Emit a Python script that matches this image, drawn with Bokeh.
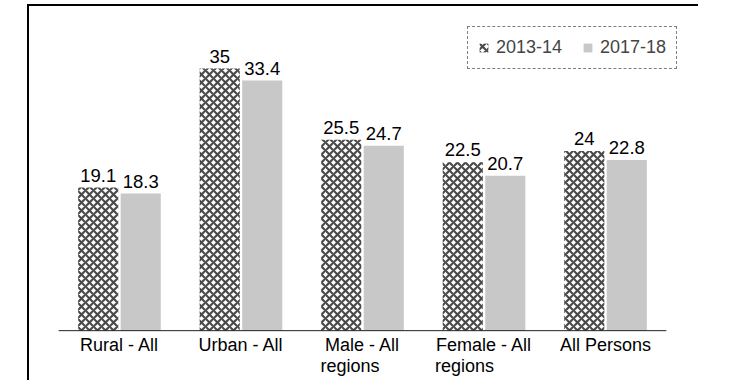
from bokeh.plotting import figure
from bokeh.models import ColumnDataSource, Range1d, FactorRange, Legend, LegendItem
from bokeh.transform import dodge
from bokeh.core.properties import value
from bokeh.embed import file_html
from bokeh.resources import INLINE

# ---- data ----
categories = ["Rural - All", "Urban - All", "Male - All regions", "Female - All regions", "All Persons"]
label_line1 = ["Rural - All", "Urban - All", "Male - All", "Female - All", "All Persons"]
label_line2 = ["", "", "regions", "regions", ""]
series_2013 = [19.1, 35, 25.5, 22.5, 24]
series_2017 = [18.3, 33.4, 24.7, 20.7, 22.8]
text_2013 = ["19.1", "35", "25.5", "22.5", "24"]
text_2017 = ["18.3", "33.4", "24.7", "20.7", "22.8"]
series_names = ["2013-14", "2017-18"]

# style: horizontal shift for left-aligned second label lines
line2_shift = [0, 0, -42, -49, 0]

src = ColumnDataSource(dict(
    x=categories, v13=series_2013, v17=series_2017,
    t13=text_2013, t17=text_2017,
    l1=label_line1, l2=label_line2, sh=line2_shift,
))
base_src = ColumnDataSource(dict(x0=[categories[0]], x1=[categories[-1]]))

FONT = value("Liberation Sans")

p = figure(
    x_range=FactorRange(*categories, range_padding=0.125, range_padding_units="absolute",
                        factor_padding=0),
    y_range=Range1d(-6.92, 41.28),
    width=671, height=376,
    output_backend="svg", toolbar_location=None,
    x_axis_location=None, y_axis_location=None,
    min_border_left=14, min_border_right=19, min_border_top=15, min_border_bottom=0,
)
p.outline_line_color = None
p.grid.visible = False
p.styles = {
    "margin-left": "27px",
    "margin-top": "4px",
    "border-left": "2px solid black",
    "border-top": "2px solid black",
}

r1 = p.vbar(x=dodge("x", -0.175, range=p.x_range), top="v13", width=0.33, source=src,
            fill_color="white", hatch_pattern="x", hatch_color="#4a4a4a",
            hatch_scale=8, hatch_weight=2.2, line_color=None)
r2 = p.vbar(x=dodge("x", 0.175, range=p.x_range), top="v17", width=0.33, source=src,
            fill_color="#c8c8c8", line_color=None)

# baseline (category axis line)
p.segment(x0=dodge("x0", -0.5, range=p.x_range), x1=dodge("x1", 0.5, range=p.x_range),
          y0=0, y1=0, source=base_src, line_color="#222222", line_width=1)

# value labels
p.text(x=dodge("x", -0.175, range=p.x_range), y="v13", text="t13", source=src,
       text_align="center", text_baseline="bottom", y_offset=-6,
       text_font=FONT, text_font_size="18.5px", text_color="black")
p.text(x=dodge("x", 0.175, range=p.x_range), y="v17", text="t17", source=src,
       text_align="center", text_baseline="bottom", y_offset=-6,
       text_font=FONT, text_font_size="18.5px", text_color="black")

# category labels
p.text(x="x", y=0, text="l1", source=src, text_align="center", text_baseline="top",
       y_offset=4, text_font=FONT, text_font_size="18px", text_color="black")
p.text(x="x", y=0, text="l2", source=src, text_align="left", text_baseline="top",
       x_offset="sh", y_offset=25, text_font=FONT, text_font_size="18px", text_color="black")

legend = Legend(
    items=[LegendItem(label=series_names[0], renderers=[r1]),
           LegendItem(label=series_names[1], renderers=[r2])],
    location=(424, 313), orientation="horizontal",
    label_text_font="Liberation Sans", label_text_font_size="18px",
    glyph_width=11, glyph_height=11, label_standoff=7, spacing=20,
    padding=10, margin=0,
    border_line_color="black", border_line_dash="2 2", border_line_width=1,
    background_fill_color="white", background_fill_alpha=1,
)
p.add_layout(legend)

open("out.html", "w").write(file_html(p, INLINE))
